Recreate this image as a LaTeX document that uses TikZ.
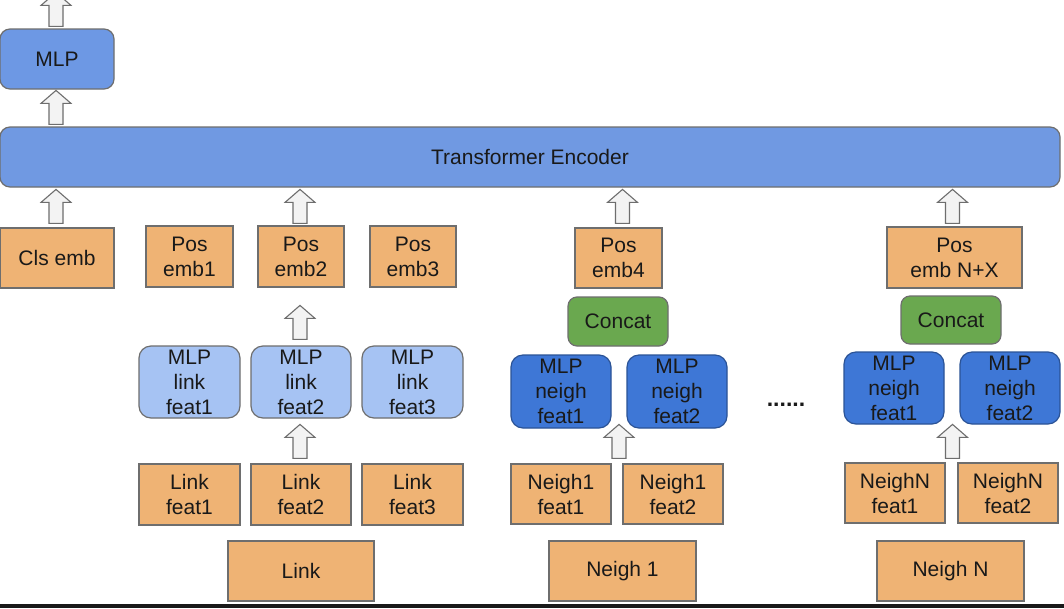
\documentclass[tikz,border=0pt]{standalone}
\usepackage{fontspec}
\setmainfont{Liberation Sans}
\usetikzlibrary{calc}
\definecolor{orng}{RGB}{239,179,116}
\definecolor{tblue}{RGB}{112,153,226}
\definecolor{mblue}{RGB}{109,152,228}
\definecolor{lblue}{RGB}{166,195,243}
\definecolor{dblue}{RGB}{62,119,214}
\definecolor{cgreen}{RGB}{106,168,79}
\definecolor{edge}{RGB}{110,110,110}
\definecolor{arrfill}{RGB}{243,243,243}
\definecolor{txt}{RGB}{25,25,25}
\tikzset{
  base/.style={draw=edge, line width=1.2pt, align=center, inner sep=0pt,
    text=txt, font=\fontsize{21}{25}\selectfont},
  obox/.style={base, fill=orng},
  tbox/.style={base, fill=tblue, rounded corners=10pt},
  mbox/.style={base, fill=mblue, rounded corners=10pt},
  lbox/.style={base, fill=lblue, rounded corners=12pt},
  dbox/.style={base, fill=dblue, draw=dblue!70!black, rounded corners=12pt},
  gbox/.style={base, fill=cgreen, rounded corners=9pt},
  blockarrow/.pic={\draw[draw=edge, fill=arrfill, line width=1.1pt, line join=miter]
     (-7,0) -- (-7,-21) -- (-15,-21) -- (0,-34) -- (15,-21) -- (7,-21) -- (7,0) -- cycle;}
}
\begin{document}
\begin{tikzpicture}[x=1pt,y=-1pt]
\useasboundingbox (0,0) rectangle (1064,608);
\fill[white] (0,0) rectangle (1064,608);
% top row
\node[mbox, minimum width=114, minimum height=60] (mlp) at (57,59) {MLP};
\node[tbox, minimum width=1060, minimum height=60] (trans) at (530,157) {Transformer Encoder};
% embeddings
\node[obox, minimum width=114, minimum height=60] (cls) at (57,258) {Cls emb};
\node[obox, minimum width=87, minimum height=61] (pe1) at (189.5,256.5) {Pos\\emb1};
\node[obox, minimum width=86, minimum height=61] (pe2) at (301,256.5) {Pos\\emb2};
\node[obox, minimum width=86, minimum height=61] (pe3) at (413,256.5) {Pos\\emb3};
\node[obox, minimum width=87, minimum height=60] (pe4) at (618.5,258) {Pos\\emb4};
\node[obox, minimum width=135, minimum height=61] (peN) at (954.5,257.5) {Pos\\emb N+X};
% concat
\node[gbox, minimum width=100, minimum height=49] (cc1) at (618,321.5) {Concat};
\node[gbox, minimum width=100, minimum height=48] (cc2) at (951,320) {Concat};
% MLP link
\node[lbox, minimum width=101, minimum height=72] (ml1) at (189.5,382) {MLP\\link\\feat1};
\node[lbox, minimum width=100, minimum height=72] (ml2) at (301,382) {MLP\\link\\feat2};
\node[lbox, minimum width=101, minimum height=72] (ml3) at (412.5,382) {MLP\\link\\feat3};
% link feats
\node[obox, minimum width=101, minimum height=61] (lf1) at (189.5,494.5) {Link\\feat1};
\node[obox, minimum width=100, minimum height=61] (lf2) at (301,494.5) {Link\\feat2};
\node[obox, minimum width=101, minimum height=61] (lf3) at (412.5,494.5) {Link\\feat3};
\node[obox, minimum width=146, minimum height=60] (link) at (301,571) {Link};
% neigh 1
\node[dbox, minimum width=100, minimum height=73] (mn1a) at (561,391.5) {MLP\\neigh\\feat1};
\node[dbox, minimum width=100, minimum height=73] (mn1b) at (677,391.5) {MLP\\neigh\\feat2};
\node[obox, minimum width=100, minimum height=60] (nf1a) at (561,494) {Neigh1\\feat1};
\node[obox, minimum width=100, minimum height=60] (nf1b) at (673,494) {Neigh1\\feat2};
\node[obox, minimum width=147, minimum height=60] (neigh1) at (622.5,571) {Neigh 1};
% dots
\node[base, draw=none, fill=none, font=\fontsize{23}{25}\bfseries] (dots) at (786,405) {......};
% neigh N
\node[dbox, minimum width=100, minimum height=72] (mnNa) at (894,388) {MLP\\neigh\\feat1};
\node[dbox, minimum width=100, minimum height=72] (mnNb) at (1010,388) {MLP\\neigh\\feat2};
\node[obox, minimum width=100, minimum height=60] (nfNa) at (895,493) {NeighN\\feat1};
\node[obox, minimum width=100, minimum height=60] (nfNb) at (1008,493) {NeighN\\feat2};
\node[obox, minimum width=147, minimum height=60] (neighN) at (950.5,571) {Neigh N};
% arrows
\pic at ($(mlp.north)+(-1,-2)$) {blockarrow};
\pic at ($(mlp.south |- trans.north)+(-1,-2)$) {blockarrow};
\pic at ($(cls.north)+(-1,-4)$) {blockarrow};
\pic at ($(pe2.north)+(-1,-2)$) {blockarrow};
\pic at ($(pe4.north)+(4,-4)$) {blockarrow};
\pic at ($(peN.north)+(-2,-3)$) {blockarrow};
\pic at ($(ml2.north)+(-1,-6)$) {blockarrow};
\pic at ($(lf2.north)+(-1,-5)$) {blockarrow};
\pic at ($($(nf1a.north east)!0.5!(nf1b.north west)$)+(2,-5)$) {blockarrow};
\pic at ($($(nfNa.north east)!0.5!(nfNb.north west)$)+(1,-4)$) {blockarrow};
% bottom bar
\fill[black!90] (0,604) rectangle (1064,608);
\end{tikzpicture}
\end{document}
